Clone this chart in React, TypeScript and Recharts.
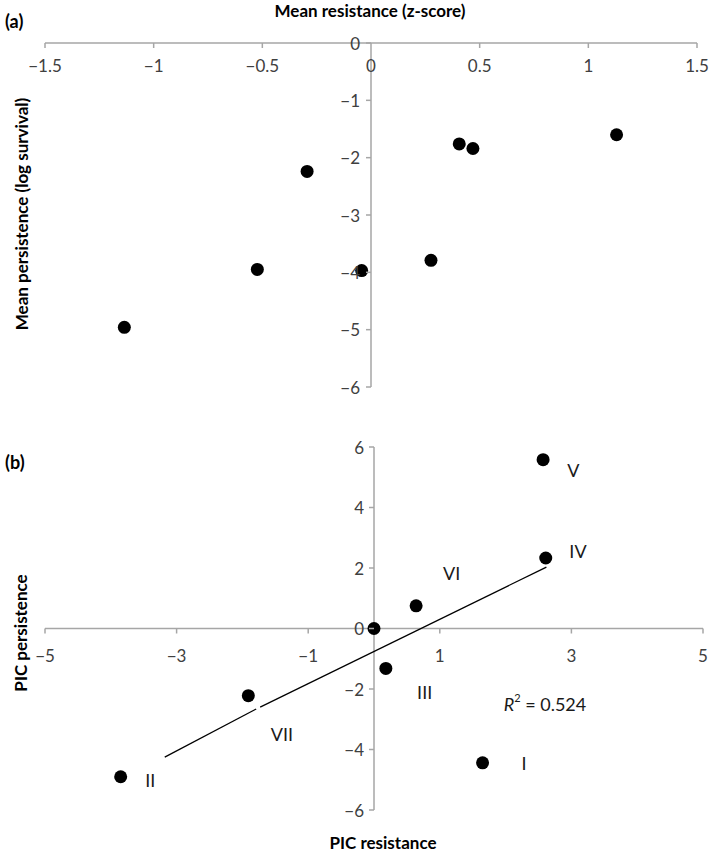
import { ReferenceLine, Scatter, ScatterChart, XAxis, YAxis } from "recharts";

// Panel (a): mean resistance vs mean persistence
const A_X = [-1.135, -0.523, -0.294, -0.043, 0.276, 0.406, 0.469, 1.13];
const A_Y = [-4.96, -3.95, -2.24, -3.97, -3.79, -1.76, -1.84, -1.6];
const A_XTICKS = [-1.5, -1, -0.5, 0, 0.5, 1, 1.5];
const A_YTICKS = [0, -1, -2, -3, -4, -5, -6];

// Panel (b): phylogenetic independent contrasts
const B_X = [1.65, -3.85, 0.18, 2.61, 2.57, 0.64, -1.91, 0];
const B_Y = [-4.44, -4.9, -1.32, 2.33, 5.58, 0.75, -2.22, 0];
const B_NAMES = ["I", "II", "III", "IV", "V", "VI", "VII"];
const B_LABEL_X = [2.28, -3.4, 0.77, 3.1, 3.03, 1.18, -1.4];
const B_LABEL_Y = [-4.46, -5.01, -2.09, 2.55, 5.25, 1.82, -3.5];
const B_XTICKS = [-5, -3, -1, 1, 3, 5];
const B_YTICKS = [6, 4, 2, 0, -2, -4, -6];
// fitted line (it has a small break near VII)
const B_TREND = [
  [{ x: -3.18, y: -4.25 }, { x: -1.79, y: -2.66 }],
  [{ x: -1.73, y: -2.6 }, { x: 2.62, y: 2.03 }],
];
const B_R2 = { x: 1.97, y: -2.48, value: "0.524" };

const FONT = "Lato, 'Open Sans', sans-serif";
const AXIS_COLOR = "#a6a6a6";
const TICK_COLOR = "#404040";

const fmt = (v: number) => (v < 0 ? "\u2212" + Math.abs(v) : String(v));

type Panel = {
  top: number;
  height: number;
  left: number;
  right: number;
  plotTop: number;
  plotBottom: number;
  xDomain: [number, number];
  yDomain: [number, number];
};

const PA: Panel = {
  top: 0,
  height: 430,
  left: 45,
  right: 697,
  plotTop: 43,
  plotBottom: 387,
  xDomain: [-1.5, 1.5],
  yDomain: [-6, 0],
};
const PB: Panel = {
  top: 430,
  height: 421,
  left: 45,
  right: 703,
  plotTop: 447,
  plotBottom: 810,
  xDomain: [-5, 5],
  yDomain: [-6, 6],
};

function zeroOf(p: Panel) {
  const zx = p.left + ((p.right - p.left) * (0 - p.xDomain[0])) / (p.xDomain[1] - p.xDomain[0]);
  const zy =
    p.plotTop - p.top + ((p.plotBottom - p.plotTop) * (p.yDomain[1] - 0)) / (p.yDomain[1] - p.yDomain[0]);
  return { zx, zy };
}

function Dot(props: any) {
  return <circle cx={props.cx} cy={props.cy} r={6.5} fill="#000" />;
}

function PanelChart({
  p,
  xTicks,
  yTicks,
  xLabelDy,
  yLabelDx,
  children,
}: {
  p: Panel;
  xTicks: number[];
  yTicks: number[];
  xLabelDy: number;
  yLabelDx: number;
  children: any;
}) {
  const { zx, zy } = zeroOf(p);
  const XTick = (t: any) => (
    <g>
      {t.payload.value !== 0 && (
        <line x1={t.x} x2={t.x} y1={zy} y2={zy + 5} stroke={AXIS_COLOR} strokeWidth={1.5} />
      )}
      <text
        x={t.x}
        y={zy + xLabelDy}
        textAnchor="middle"
        dominantBaseline="central"
        fontFamily={FONT}
        fontSize={17}
        fill={TICK_COLOR}
      >
        {fmt(t.payload.value)}
      </text>
    </g>
  );
  const YTick = (t: any) => (
    <g>
      <line x1={zx - 5} x2={zx} y1={t.y} y2={t.y} stroke={AXIS_COLOR} strokeWidth={1.5} />
      <text
        x={zx - yLabelDx}
        y={t.y}
        textAnchor="end"
        dominantBaseline="central"
        fontFamily={FONT}
        fontSize={17}
        fill={TICK_COLOR}
      >
        {fmt(t.payload.value)}
      </text>
    </g>
  );
  return (
    <div style={{ position: "absolute", left: 0, top: p.top }}>
      <ScatterChart
        width={709}
        height={p.height}
        margin={{
          top: p.plotTop - p.top,
          left: p.left - 1,
          right: 709 - p.right,
          bottom: p.top + p.height - p.plotBottom - 1,
        }}
      >
        <XAxis
          type="number"
          dataKey="x"
          domain={p.xDomain}
          ticks={xTicks}
          interval={0}
          height={1}
          axisLine={false}
          tickLine={false}
          tick={XTick}
          allowDataOverflow
        />
        <YAxis
          type="number"
          dataKey="y"
          domain={p.yDomain}
          ticks={yTicks}
          interval={0}
          width={1}
          axisLine={false}
          tickLine={false}
          tick={YTick}
          allowDataOverflow
        />
        <ReferenceLine x={0} stroke={AXIS_COLOR} strokeWidth={1.5} />
        <ReferenceLine y={0} stroke={AXIS_COLOR} strokeWidth={1.5} />
        {children}
      </ScatterChart>
    </div>
  );
}

const aData = A_X.map((x, i) => ({ x, y: A_Y[i] }));
const bData = B_X.map((x, i) => ({ x, y: B_Y[i] }));
const bLabels = B_NAMES.map((name, i) => ({ x: B_LABEL_X[i], y: B_LABEL_Y[i], name }));

function RomanLabel(props: any) {
  return (
    <text
      x={props.cx}
      y={props.cy}
      textAnchor="middle"
      dominantBaseline="central"
      fontFamily={FONT}
      fontSize={18}
      fill="#1a1a1a"
    >
      {props.payload.name}
    </text>
  );
}

function R2Label(props: any) {
  return (
    <text x={props.cx} y={props.cy} dominantBaseline="central" fontFamily={FONT} fontSize={18} fill="#1a1a1a">
      <tspan fontStyle="italic">R</tspan>
      <tspan dy={-7} fontSize={11}>
        2
      </tspan>
      <tspan dy={7}>{" = " + props.payload.value}</tspan>
    </text>
  );
}

export default function App() {
  return (
    <div style={{ position: "absolute", left: 0, top: 0, width: 709, height: 851, background: "#fff" }}>
      <PanelChart p={PA} xTicks={A_XTICKS} yTicks={A_YTICKS} xLabelDy={22} yLabelDx={11}>
        <Scatter data={aData} shape={Dot} isAnimationActive={false} />
      </PanelChart>
      <PanelChart p={PB} xTicks={B_XTICKS} yTicks={B_YTICKS} xLabelDy={27} yLabelDx={10}>
        {B_TREND.map((seg, i) => (
          <ReferenceLine
            key={i}
            segment={seg}
            stroke="#000"
            strokeWidth={1.3}
            ifOverflow="visible"
          />
        ))}
        <Scatter data={bData} shape={Dot} isAnimationActive={false} />
        <Scatter data={bLabels} shape={RomanLabel} isAnimationActive={false} />
        <Scatter data={[B_R2]} shape={R2Label} isAnimationActive={false} />
      </PanelChart>
      <svg
        width={709}
        height={851}
        style={{ position: "absolute", left: 0, top: 0, pointerEvents: "none" }}
        fontFamily={FONT}
        fontWeight="bold"
        fill="#000"
      >
        <text x={5} y={21} dominantBaseline="central" fontSize={18}>
          (a)
        </text>
        <text x={370} y={10} textAnchor="middle" dominantBaseline="central" fontSize={17}>
          Mean resistance (z-score)
        </text>
        <text
          transform="translate(21,214) rotate(-90)"
          textAnchor="middle"
          dominantBaseline="central"
          fontSize={17}
        >
          Mean persistence (log survival)
        </text>
        <text x={5} y={462} dominantBaseline="central" fontSize={18}>
          (b)
        </text>
        <text
          transform="translate(20,633) rotate(-90)"
          textAnchor="middle"
          dominantBaseline="central"
          fontSize={17}
        >
          PIC persistence
        </text>
        <text x={383} y={842} textAnchor="middle" dominantBaseline="central" fontSize={17}>
          PIC resistance
        </text>
      </svg>
    </div>
  );
}
